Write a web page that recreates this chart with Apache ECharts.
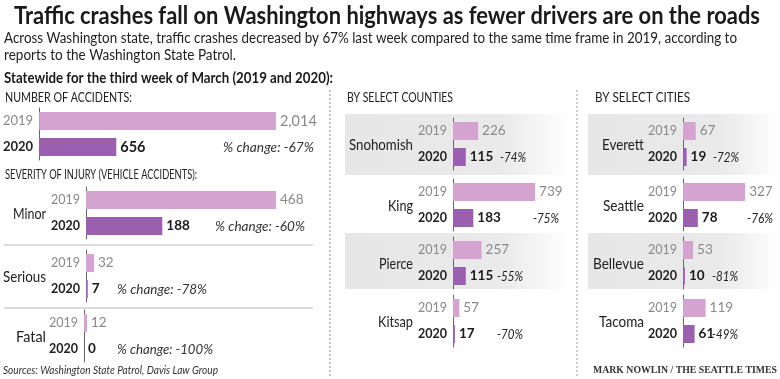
<!DOCTYPE html>
<html>
<head>
<meta charset="utf-8">
<script src="https://cdn.jsdelivr.net/npm/echarts@6/dist/echarts.min.js"></script>
<style>html,body{margin:0;padding:0;background:#fff}#c{width:780px;height:379px}</style>
</head>
<body>
<div id="c"></div>
<script>
// ---- data ----
const years = ['2019', '2020'];
const totalValues = [2014, 656];
const totalChange = '% change: -67%';
const severityCats = ['Minor', 'Serious', 'Fatal'];
const severity2019 = [468, 32, 12];
const severity2020 = [188, 7, 0];
const severityChange = ['% change: -60%', '% change: -78%', '% change: -100%'];
const counties = ['Snohomish', 'King', 'Pierce', 'Kitsap'];
const counties2019 = [226, 739, 257, 57];
const counties2020 = [115, 183, 115, 17];
const countiesChange = ['-74%', '-75%', '-55%', '-70%'];
const cities = ['Everett', 'Seattle', 'Bellevue', 'Tacoma'];
const cities2019 = [67, 327, 53, 119];
const cities2020 = [19, 78, 10, 61];
const citiesChange = ['-72%', '-76%', '-81%', '-49%'];

// ---- style ----
const FONT = 'Lato, "Open Sans", sans-serif';
const SERIF = '"Liberation Serif","DejaVu Serif",serif';
const C19 = '#d5a3cf', C20 = '#9a5fae';
const CONDENSE = 0.86;
const chart = echarts.init(document.getElementById('c'), null, {renderer: 'canvas'});

const mctx = document.createElement('canvas').getContext('2d');
function measure(font, t) { mctx.font = font; return mctx.measureText(t).width; }

const grids = [], xAxes = [], yAxes = [], series = [], graphics = [];
const ROWH = 52;

function fmt(p) { return p.value.toLocaleString('en-US'); }

function addGroup(left, top, width, max, v19, v20, opts) {
  const i = grids.length;
  opts = opts || {};
  const ys = opts.ys || 12.5;
  grids.push({left: left, top: top, width: width, height: ROWH});
  xAxes.push({gridIndex: i, type: 'value', min: 0, max: max, show: false});
  yAxes.push({
    gridIndex: i, type: 'category', data: years, inverse: true,
    axisLine: {show: true, lineStyle: {color: '#666', width: 1}},
    axisTick: {show: false},
    axisLabel: {
      margin: 6,
      formatter: function (v) { return v === years[0] ? '{a|' + v + '}' : '{b|' + v + '}'; },
      rich: {
        a: {fontFamily: FONT, fontSize: ys, color: '#8a8a8a'},
        b: {fontFamily: FONT, fontSize: ys, color: '#222', fontWeight: 'bold'}
      }
    }
  });
  const fs = opts.fs || 13.5;
  series.push({
    type: 'bar', xAxisIndex: i, yAxisIndex: i, barWidth: 18, silent: true,
    data: [
      {value: v19, itemStyle: {color: C19},
       label: {show: true, position: 'right', distance: 4, fontFamily: FONT, fontSize: fs, color: '#8a8a8a', formatter: fmt}},
      {value: v20, itemStyle: {color: C20},
       label: {show: true, position: 'right', distance: 4, fontFamily: FONT, fontSize: fs, fontWeight: 'bold', color: '#1a1a1a', formatter: fmt}}
    ]
  });
}

function text(t, x, y, o) {
  o = o || {};
  const font = (o.style || 'normal') + ' ' + (o.weight || 'normal') + ' ' + (o.size || 13) + 'px ' + (o.family || FONT);
  let s = CONDENSE;
  if (o.w) s = o.w / measure(font, t);
  graphics.push({
    type: 'text', silent: true, z: 10, x: x, y: y, scaleX: s,
    style: {
      text: t, x: 0, y: 0, font: font,
      fill: o.color || '#222', textAlign: o.align || 'left', textVerticalAlign: 'middle'
    }
  });
}
function line(x1, y1, x2, y2, color, dash) {
  graphics.push({type: 'line', silent: true, shape: {x1: x1, y1: y1, x2: x2, y2: y2},
    style: {stroke: color, lineWidth: 1, lineDash: dash || null}});
}
function band(x, y, w, h) {
  graphics.push({type: 'rect', silent: true, z: -10, shape: {x: x, y: y, width: w, height: h},
    style: {fill: new echarts.graphic.LinearGradient(0, 0, 1, 0, [
      {offset: 0, color: '#e7e7e7'}, {offset: 0.7, color: '#eaeaea'}, {offset: 1, color: '#ffffff'}])}});
}

// titles
text('Traffic crashes fall on Washington highways as fewer drivers are on the roads', 387, 16, {size: 24, weight: 'bold', align: 'center', color: '#1a1a1a', w: 746});
text('Across Washington state, traffic crashes decreased by 67% last week compared to the same time frame in 2019, according to', 4, 38, {size: 14.5, color: '#222', w: 733});
text('reports to the Washington State Patrol.', 4, 55, {size: 14.5, color: '#222', w: 232});
text('Statewide for the third week of March (2019 and 2020):', 4, 78, {size: 14.5, weight: 'bold', color: '#1a1a1a', w: 329});

// separators
line(330, 90, 330, 378, '#999', [2, 2]);
line(577, 90, 577, 378, '#999', [2, 2]);

// left panel
text('NUMBER OF ACCIDENTS:', 5, 98, {size: 12.5, w: 127});
addGroup(36, 108, 250, 2100, totalValues[0], totalValues[1], {fs: 14.5, ys: 13});
text(totalChange, 314, 147, {size: 14, style: 'italic', align: 'right', color: '#333', w: 91});
text('SEVERITY OF INJURY (VEHICLE ACCIDENTS):', 5, 175, {size: 12.5, w: 192});

const sevLayout = [
  {left: 86, top: 187, width: 203, max: 500, chgX: 305, chgAlign: 'right', w: 90, lw: 33},
  {left: 86, top: 250, width: 200, max: 800, chgX: 117, chgAlign: 'left', w: 90, lw: 43},
  {left: 84, top: 310, width: 200, max: 800, chgX: 117, chgAlign: 'left', w: 96, lw: 30}
];
severityCats.forEach(function (c, k) {
  const L = sevLayout[k];
  addGroup(L.left, L.top, L.width, L.max, severity2019[k], severity2020[k]);
  text(c, 46, L.top + ROWH / 2 + 1, {size: 15, align: 'right', w: L.lw});
  text(severityChange[k], L.chgX, L.top + 39, {size: 14, style: 'italic', align: L.chgAlign, color: '#333', w: L.w});
});
line(4, 245, 313, 245, '#bbb');
line(4, 308, 313, 308, '#bbb');
text('Sources: Washington State Patrol, Davis Law Group', 3, 370, {size: 12, style: 'italic', color: '#333', w: 215});

// counties / cities
const tops = [118, 179, 237, 295];
const bands = [[114, 61], null, [233, 56], null];
text('BY SELECT COUNTIES', 347, 98, {size: 12.5, w: 106});
text('BY SELECT CITIES', 595, 98, {size: 12.5, w: 95});
const countyChgX = [500, 533, 497, 497];
const cityChgX = [713, 747, 712, 712];
const countyW = [64, 25, 34, 35];
const cityW = [42, 41, 51, 45];
counties.forEach(function (c, k) {
  if (bands[k]) band(345, bands[k][0], 225, bands[k][1]);
  addGroup(453, tops[k], 100, 900, counties2019[k], counties2020[k]);
  text(c, 413, tops[k] + ROWH / 2 + 1, {size: 15, align: 'right', w: countyW[k]});
  text(countiesChange[k], countyChgX[k], tops[k] + 39, {size: 14, style: 'italic', color: '#222', w: 26});
});
cities.forEach(function (c, k) {
  if (bands[k]) band(588, bands[k][0], 192, bands[k][1]);
  addGroup(683, tops[k], 95, 500, cities2019[k], cities2020[k]);
  text(c, 644, tops[k] + ROWH / 2 + 1, {size: 15, align: 'right', w: cityW[k]});
  text(citiesChange[k], cityChgX[k], tops[k] + 39, {size: 14, style: 'italic', color: '#222', w: 26});
});
text('MARK NOWLIN / THE SEATTLE TIMES', 777, 370, {size: 10, weight: 'bold', align: 'right', color: '#333', family: SERIF, w: 184});

chart.setOption({
  animation: false,
  backgroundColor: '#fff',
  grid: grids, xAxis: xAxes, yAxis: yAxes, series: series, graphic: graphics
});
</script>
</body>
</html>
